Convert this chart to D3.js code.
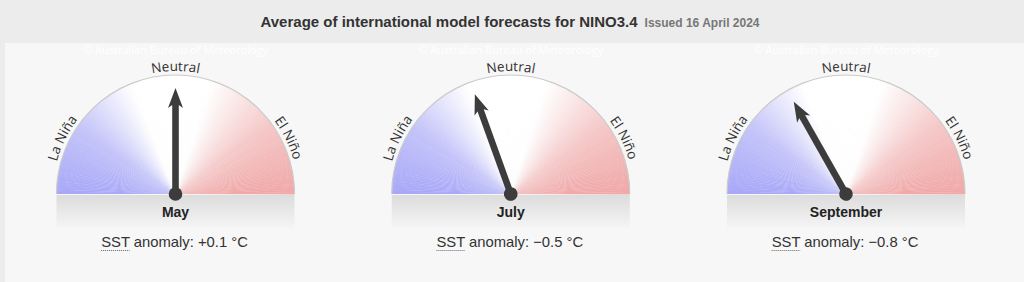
<!DOCTYPE html>
<html>
<head>
<meta charset="utf-8">
<script src="https://cdn.jsdelivr.net/npm/d3@7"></script>
<style>
  html, body { margin: 0; padding: 0; background: #ececec; }
  svg { display: block; }
</style>
</head>
<body>
<svg id="chart" width="1024" height="282"></svg>
<script>
// ---- data ----
const months = ["May", "July", "September"];
const anomalyLabels = ["+0.1", "\u22120.5", "\u22120.8"];      // printed values (°C)
const needleValues = [0.0, -0.55, -0.82];                      // needle positions (°C)
const zoneLabels = ["La Niña", "Neutral", "El Niño"];
const zoneOffsets = [14.6, 50, 85.4];                          // % along arc
const titleText = "Average of international model forecasts for NINO3.4";
const issuedText = "Issued 16 April 2024";
const watermark = "\u00A9 Australian Bureau of Meteorology";

const W = 1024, H = 282;
const svg = d3.select("#chart");
const defs = svg.append("defs");

// backgrounds
svg.append("rect").attr("x", 0).attr("y", 0).attr("width", W).attr("height", H).attr("fill", "#ececec");
svg.append("rect").attr("x", 5).attr("y", 43).attr("width", W - 5).attr("height", H - 43).attr("fill", "#f7f7f7");

// title
const title = svg.append("text")
  .attr("x", 510).attr("y", 27)
  .attr("text-anchor", "middle")
  .attr("font-family", "Liberation Sans, Arial, sans-serif");
title.append("tspan").attr("font-size", 15).attr("font-weight", "bold").attr("fill", "#333").text(titleText);
title.append("tspan").attr("dx", 7).attr("font-size", 12).attr("font-weight", "bold").attr("fill", "#777").text(issuedText);

// band gradient
const bg = defs.append("linearGradient").attr("id", "band").attr("x1", 0).attr("y1", 0).attr("x2", 0).attr("y2", 1);
bg.append("stop").attr("offset", "0%").attr("stop-color", "#dcdcdc");
bg.append("stop").attr("offset", "100%").attr("stop-color", "#f5f5f5");

const x = d3.scalePoint().domain(months).range([175.5, 846]);
const angle = d3.scaleLinear().domain([-2.5, 2.5]).range([-90, 90]);
const color = d3.scaleLinear()
  .domain([-90, -55, -22, 18, 55, 90])
  .range(["#a8a8f8", "#c4c4fa", "#ffffff", "#ffffff", "#f5c6c6", "#f0a8a8"])
  .interpolate(d3.interpolateRgb);

const R = 119, cy = 194;
const arcGen = d3.arc().innerRadius(0).outerRadius(R);
const wedges = d3.range(-90, 90, 1);

months.forEach((m, i) => {
  const cx = x(m);
  const g = svg.append("g").attr("transform", `translate(${cx},${cy})`);

  // watermark
  g.append("text").attr("x", 0).attr("y", 54 - cy)
    .attr("text-anchor", "middle")
    .attr("font-family", "Open Sans, sans-serif").attr("font-size", 11)
    .attr("fill", "#ffffff").text(watermark);

  // gradient semicircle
  g.selectAll("path.w").data(wedges).join("path")
    .attr("class", "w")
    .attr("d", d => arcGen({ startAngle: d * Math.PI / 180, endAngle: (d + 1.2) * Math.PI / 180 }))
    .attr("fill", d => color(d + 0.5))
    .attr("stroke", "none");

  // outer rim
  g.append("path")
    .attr("d", `M${-R},0A${R},${R} 0 0 1 ${R},0`)
    .attr("fill", "none").attr("stroke", "#cbcbcb").attr("stroke-width", 1.2);

  // band below
  g.append("rect").attr("x", -R).attr("y", 1).attr("width", 2 * R).attr("height", 33).attr("fill", "url(#band)");

  // zone labels along arc
  const pid = "arcpath" + i;
  const Rt = R + 4;
  defs.append("path").attr("id", pid)
    .attr("d", `M${cx - Rt},${cy}A${Rt},${Rt} 0 0 1 ${cx + Rt},${cy}`);
  zoneLabels.forEach((lab, j) => {
    svg.append("text")
      .attr("font-family", "Open Sans, sans-serif").attr("font-size", 13.5)
      .attr("fill", "#333")
      .append("textPath").attr("href", "#" + pid)
      .attr("startOffset", zoneOffsets[j] + "%")
      .attr("text-anchor", "middle")
      .text(lab);
  });

  // needle
  const L = 106;
  const n = g.append("g").attr("transform", `rotate(${angle(needleValues[i])})`);
  n.append("rect").attr("x", -3.3).attr("y", -(L - 16)).attr("width", 6.6).attr("height", L - 16).attr("fill", "#3c3c3c");
  n.append("path")
    .attr("d", `M0,${-L} L7.5,${-L + 20} L3.3,${-L + 17} L-3.3,${-L + 17} L-7.5,${-L + 20} Z`)
    .attr("fill", "#3c3c3c");
  n.append("circle").attr("r", 6.8).attr("fill", "#3c3c3c");

  // month label
  g.append("text").attr("x", 0).attr("y", 23)
    .attr("text-anchor", "middle")
    .attr("font-family", "Liberation Sans, Arial, sans-serif").attr("font-size", 14).attr("font-weight", "bold")
    .attr("fill", "#222").text(m);

  // SST anomaly line
  const t = g.append("text").attr("x", -1).attr("y", 53)
    .attr("text-anchor", "middle")
    .attr("font-family", "Liberation Sans, Arial, sans-serif").attr("font-size", 14.8)
    .attr("fill", "#333");
  t.append("tspan").text("SST");
  t.append("tspan").text(` anomaly: ${anomalyLabels[i]} \u00B0C`);
  // dotted underline under "SST" (abbr style)
  const node = t.node();
  const sx = node.getStartPositionOfChar(0).x;
  const ex = node.getEndPositionOfChar(2).x;
  g.append("line")
    .attr("x1", sx).attr("x2", ex).attr("y1", 56.5).attr("y2", 56.5)
    .attr("stroke", "#666").attr("stroke-width", 1).attr("stroke-dasharray", "1,1");
});
</script>
</body>
</html>
